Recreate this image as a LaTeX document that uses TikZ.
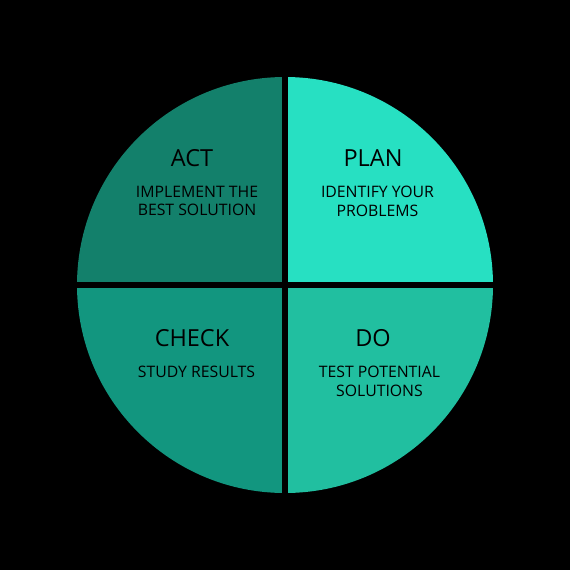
\documentclass[tikz,border=0pt]{standalone}
\usepackage{fontspec}
\setmainfont{Open Sans}
\definecolor{actc}{HTML}{13806B}
\definecolor{planc}{HTML}{27E0C2}
\definecolor{checkc}{HTML}{12967F}
\definecolor{doc}{HTML}{21BFA0}
\tikzset{
  title/.style={font=\fontsize{23.5}{26}\selectfont, text=black, inner sep=0pt},
  sub/.style={font=\fontsize{15.8}{18.8}\selectfont, text=black, align=center, inner sep=0pt},
}
\begin{document}
\begin{tikzpicture}[x=1pt,y=-1pt]
\fill[black] (0,0) rectangle (570,570);
\useasboundingbox (0,0) rectangle (570,570);
\coordinate (c) at (285,285);
\begin{scope}
  \clip (c) circle (208);
  \fill[actc] (70,70) rectangle (282,282);
  \fill[planc] (288,70) rectangle (500,282);
  \fill[checkc] (70,288) rectangle (282,500);
  \fill[doc] (288,288) rectangle (500,500);
\end{scope}
\node[title] (act) at (192,158) {ACT};
\node[sub] (actsub) at (197,201) {IMPLEMENT THE\\BEST SOLUTION};
\node[title] (plan) at (373,158) {PLAN};
\node[sub] (plansub) at (377.5,201) {IDENTIFY YOUR\\PROBLEMS};
\node[title] (check) at (192,338) {CHECK};
\node[sub] (checksub) at (196.5,372) {STUDY RESULTS};
\node[title] (do) at (373,338) {DO};
\node[sub] (dosub) at (379.5,381.5) {TEST POTENTIAL\\SOLUTIONS};
\end{tikzpicture}
\end{document}
